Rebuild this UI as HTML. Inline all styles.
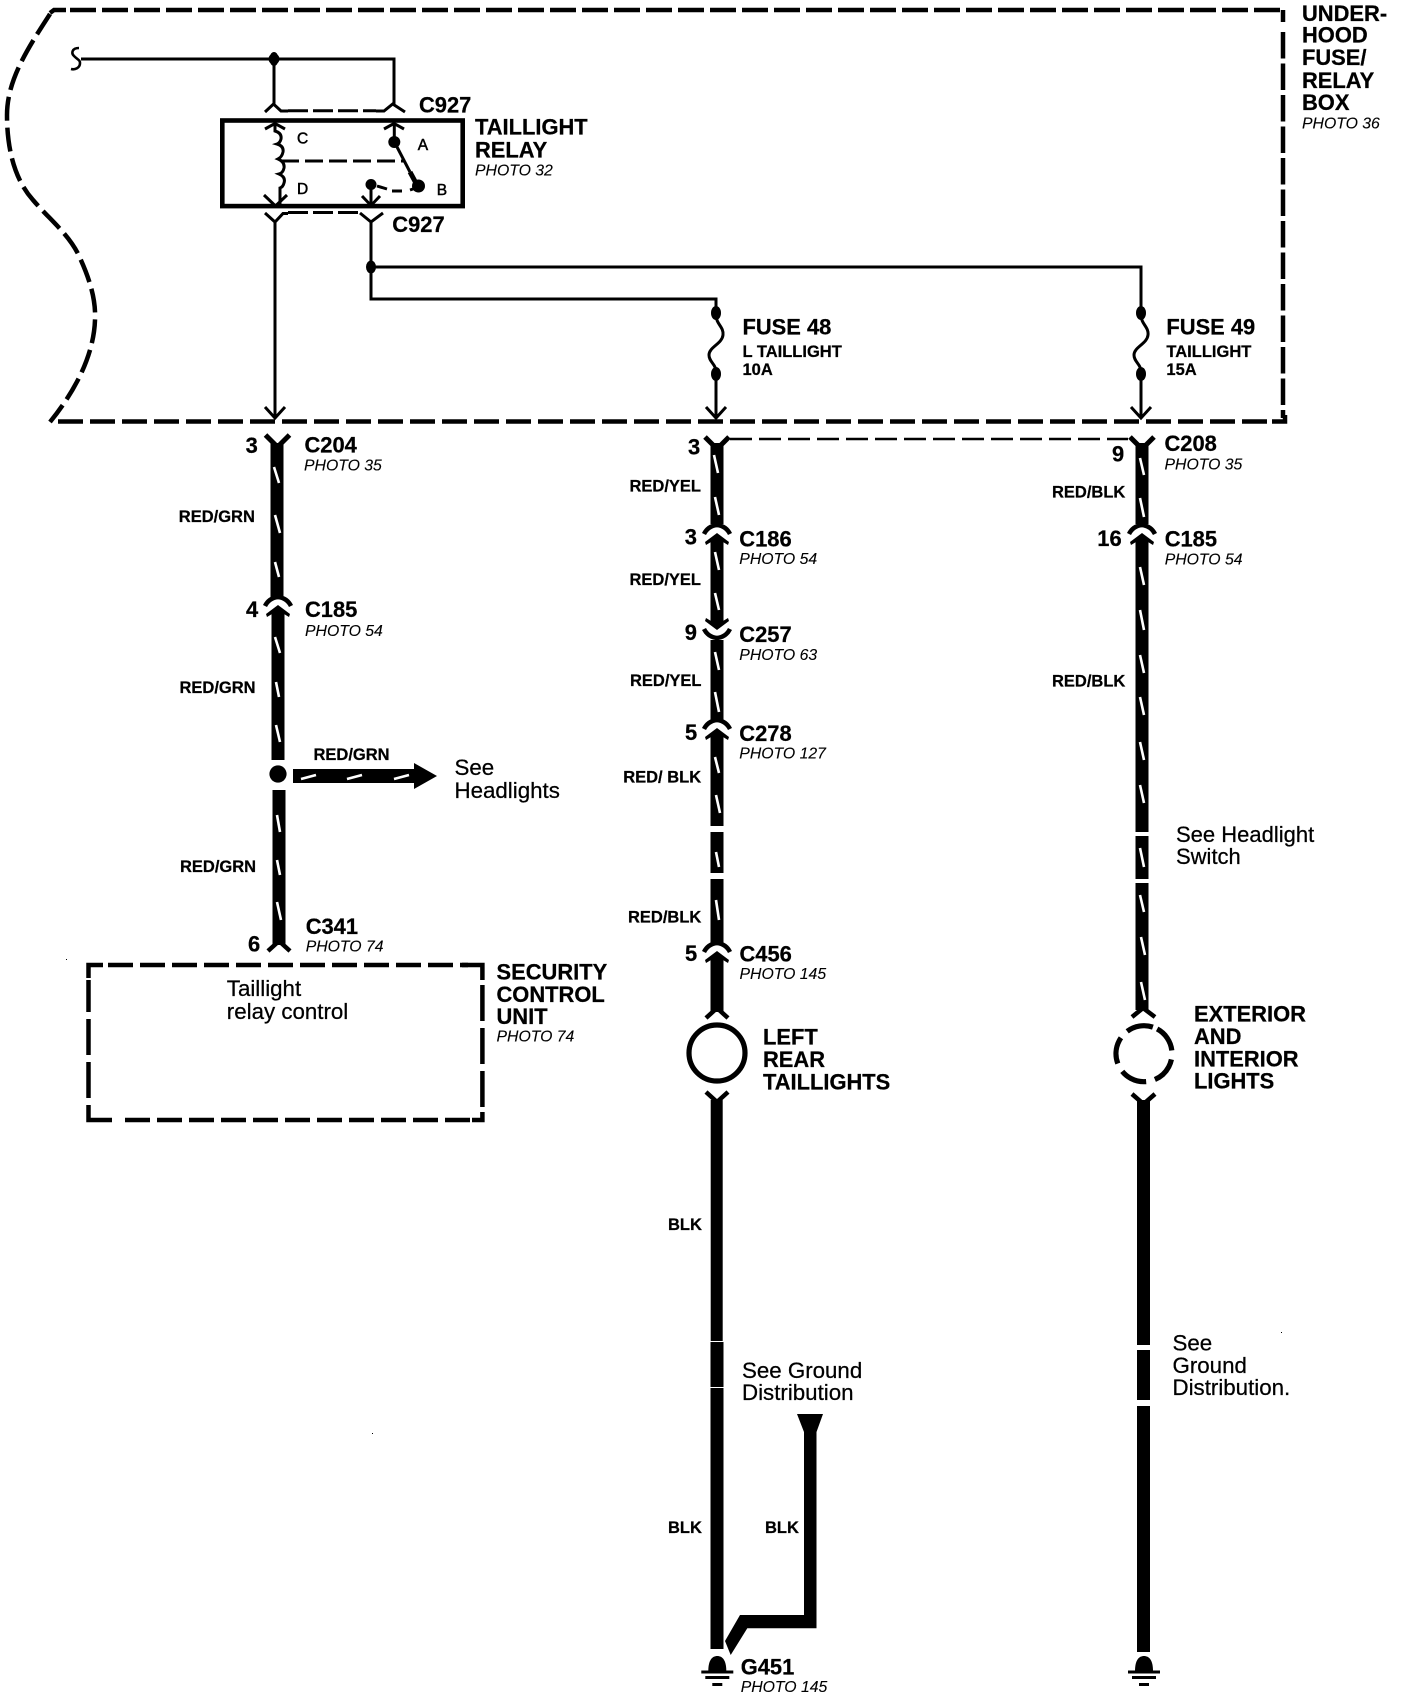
<!DOCTYPE html>
<html><head><meta charset="utf-8"><title>Taillight circuit</title>
<style>
html,body{margin:0;padding:0;background:#fff;width:1408px;height:1700px;overflow:hidden}
svg{display:block}
text{font-family:"Liberation Sans",sans-serif;fill:#000;stroke:#000;stroke-width:.25}
.b{font-weight:bold;font-size:21.9px}
.w{font-weight:bold;font-size:16.5px}
.p{font-style:italic;font-size:15.8px;stroke-width:.1}
.r{font-size:22.3px}
.s{font-size:15.5px;stroke-width:.5}
.n{fill:none;stroke:#000}
.t{stroke-width:3}
.wire{fill:none;stroke:#000;stroke-width:13}
.st{stroke:#fff;stroke-width:2.6;fill:none}
.d{fill:none;stroke:#000;stroke-width:4.5}
</style></head><body>
<svg width="1408" height="1700" viewBox="0 0 1408 1700" xmlns="http://www.w3.org/2000/svg">
<defs>
<g id="yt"><path d="M-12,-10 L0,2 L12,-10" fill="none" stroke="#000" stroke-width="5"/></g>
<g id="mate"><path d="M-13,5 Q-9,-3 0,-4 Q9,-3 13,5" fill="none" stroke="#000" stroke-width="4.5"/><path d="M0,4 L12,13 L11,16 L6,13 L6,18 L-6,18 L-6,13 L-11,16 L-12,13Z" fill="#000"/></g>
<g id="gnd"><path d="M-9,15 C-9,4 -5,0 0,0 C5,0 9,4 9,15 Z" fill="#000"/><rect x="-16" y="14.5" width="32" height="3"/><rect x="-12" y="20" width="24" height="3"/><rect x="-5" y="27" width="10" height="3"/></g>
<g id="fuse"><ellipse cx="0" cy="0" rx="5" ry="7"/><ellipse cx="0" cy="61" rx="5" ry="7"/><path d="M0,2 C0,11 8,14 7,22 C6,31 -7,34 -7,42 C-7,49 0,51 0,59" fill="none" stroke="#000" stroke-width="3"/></g>
<g id="va"><path d="M-10,-11 L0,0 L10,-11" fill="none" stroke="#000" stroke-width="3"/></g>
</defs>

<!-- Fuse box outline -->
<path class="d" stroke-dasharray="24 7" d="M50,14 C28,48 7,80 7,115 C7,150 15,180 33,200 C50,220 70,235 80,258 C90,280 96,300 95,320 C94,350 80,385 50,422"/>
<path class="d" d="M50,13 L54,10 L66,10"/>
<path class="d" stroke-dasharray="26 6" d="M70,10 H1280"/>
<path class="d" d="M1283,10 V22"/>
<path class="d" stroke-dasharray="26.5 5" d="M1283,32 V418"/>
<path class="d" stroke-dasharray="25 7" d="M58,421.5 H1272"/>
<path class="d" d="M1272,421.5 H1285 V415"/>

<!-- Top wiring -->
<path class="n t" d="M81,59 H394 V105"/>
<path class="n t" d="M274,59 V105"/>
<circle cx="274" cy="59" r="5.5"/>
<ellipse cx="274" cy="59" rx="4.5" ry="7"/>
<path class="n" stroke-width="2.6" d="M79,48 C72,48 71,53 74,56 C78,60 80,60 80,63 C80,68 75,70 71,69"/>
<path class="n t" d="M265,112 L273.5,104 L281,111 H288"/>
<path class="n t" d="M376,111 H384 L392.7,104 L405,112"/>
<path class="n t" stroke-dasharray="20 5" d="M288,110.7 H376"/>

<!-- Relay box -->
<rect x="222.3" y="120.5" width="240.4" height="85.6" fill="none" stroke="#000" stroke-width="4.6"/>
<path class="n t" d="M265,129 L275,123.5 L285,129"/>
<path class="n t" d="M275,124 V131 q7,2 6,8 q-1,4 -4,5 q7,2 6,8 q-1,5 -5,7 q7,3 6,9 q-1,5 -5,6 q7,3 5,9 q-1,4 -4,5 V204"/>
<path class="n t" d="M264,195 L275.5,206 L287,195"/>
<path class="n t" stroke-dasharray="18 6" d="M281,161 H405"/>
<path class="n t" d="M384,129 L394,123.5 L404,129"/>
<path class="n t" d="M394.3,124 V142"/>
<circle cx="394.3" cy="142" r="6"/>
<path class="n" stroke-width="3" d="M396,145 L410,172"/>
<path class="n" stroke-width="5" d="M410,172 L417,185"/>
<circle cx="418.5" cy="186" r="6.5"/>
<path class="n t" d="M377,186 L387,189"/>
<path class="n t" d="M392,191 H402"/>
<path class="n t" d="M410,190 L416,188"/>
<circle cx="371" cy="184.5" r="5.5"/>
<path class="n t" d="M371,186 V205"/>
<path class="n t" d="M362,196 L371,205.5 L380,196"/>

<!-- Lower relay connector -->
<path class="n t" d="M265,213 L275,222 L283,213.5 H288"/>
<path class="n t" d="M360,213 L371,222 L383,213"/>
<path class="n t" stroke-dasharray="20 5" d="M288,212.5 H360"/>
<path class="n t" d="M275,221 V418"/>
<use href="#va" x="275" y="418"/>
<path class="n t" d="M371,221 V299 H716 V314"/>
<path class="n t" d="M371,267 H1141 V314"/>
<ellipse cx="371" cy="267" rx="5" ry="6.5"/>
<use href="#fuse" x="716" y="313"/>
<use href="#fuse" x="1141" y="313"/>
<path class="n t" d="M716,374 V418"/><use href="#va" x="716" y="418"/>
<path class="n t" d="M1141,374 V418"/><use href="#va" x="1141" y="418"/>

<!-- Column 1 wires -->
<path class="wire" d="M277,443 V598"/>
<path class="wire" d="M278,612 V760"/>
<path class="wire" d="M279,790 V945"/>
<use href="#yt" x="277.5" y="445"/>
<use href="#mate" x="278" y="601"/>
<path class="n" stroke-width="4.5" d="M268,951 L279,941 L290,951"/>
<circle cx="278" cy="774" r="8.6"/>
<path d="M293,769 H414 V763 L437,776 L414,789 V783 H293Z"/>
<g class="st">
<path d="M274,467 L279,483"/><path d="M275,515 L280,533"/><path d="M275,562 L279,577"/>
<path d="M275,637 L280,653"/><path d="M276,682 L279,697"/><path d="M276,725 L280,742"/>
<path d="M277,815 L280,832"/><path d="M277,860 L280,875"/><path d="M277,902 L281,920"/>
<path d="M301,779 L316,775"/><path d="M347,779 L362,775"/><path d="M394,779 L409,775"/>
</g>

<!-- Column 2 wires -->
<path class="wire" d="M717,443 V524"/>
<path class="wire" d="M717,540 V622"/>
<path class="wire" d="M717,640 V722"/>
<path class="wire" d="M717,736 V826"/>
<path class="wire" d="M717,832 V873"/>
<path class="wire" d="M717,879 V945"/>
<path class="wire" d="M717,958 V1012"/>
<use href="#yt" x="717" y="447"/>
<use href="#mate" x="717" y="529"/>
<use transform="translate(717,634) scale(1,-1)" href="#mate"/>
<use href="#mate" x="717" y="724"/>
<use href="#mate" x="717" y="947"/>
<path class="n" stroke-width="4.5" d="M706,1018 L717,1008 L728,1018"/>
<circle cx="717" cy="1053" r="28" fill="none" stroke="#000" stroke-width="5.2"/>
<path class="n" stroke-width="4.5" d="M706,1092 L717,1102 L728,1092"/>
<path d="M710.7,1100 H722.7 V1341 H710.7Z"/>
<path d="M710.5,1342 H723.5 V1387 H710.5Z"/>
<path d="M710.5,1388 H723.5 V1649 H710.5Z"/>
<g class="st">
<path d="M714,455 L718,473"/><path d="M715,497 L719,515"/>
<path d="M715,552 L719,570"/><path d="M715,593 L719,610"/>
<path d="M715,652 L719,670"/><path d="M715,692 L719,712"/>
<path d="M715,757 L719,773"/><path d="M716,795 L720,813"/>
<path d="M716,852 L719,867"/><path d="M716,900 L719,920"/>
</g>
<path class="n" stroke-width="2.6" stroke-dasharray="22 7" d="M730,439 H1128"/>

<!-- Return ground wire -->
<path d="M797,1414 H823 L816.5,1432 V1628.3 H747.3 L730.7,1655 L725,1641 L740,1615 H804 V1432Z"/>
<use href="#gnd" x="717.3" y="1656"/>

<!-- Column 3 wires -->
<path class="wire" d="M1142,443 V524"/>
<path class="wire" d="M1142,540 V832"/>
<path class="wire" d="M1142,836 V879"/>
<path class="wire" d="M1142,883 V1010"/>
<use href="#yt" x="1142" y="447"/>
<use href="#mate" x="1142" y="529"/>
<path class="n" stroke-width="4.5" d="M1132,1017 L1143,1008 L1155,1017"/>
<circle cx="1144" cy="1053.7" r="28" fill="none" stroke="#000" stroke-width="5.2" stroke-dasharray="27 9" transform="rotate(-62 1144 1053.7)"/>
<path class="n" stroke-width="4.5" d="M1132,1094 L1143.5,1104 L1155,1094"/>
<path d="M1137,1100 H1150 V1345 H1137Z"/>
<path d="M1137,1350 H1150 V1400 H1137Z"/>
<path d="M1137,1406 H1150 V1652 H1137Z"/>
<use href="#gnd" x="1144" y="1656"/>
<g class="st">
<path d="M1140,458 L1144,475"/><path d="M1140,498 L1144,517"/>
<path d="M1140,567 L1144,585"/><path d="M1140,610 L1144,630"/>
<path d="M1140,655 L1144,673"/><path d="M1140,697 L1144,715"/>
<path d="M1140,742 L1144,760"/><path d="M1140,785 L1144,803"/>
<path d="M1140,848 L1144,867"/><path d="M1140,895 L1144,912"/>
<path d="M1141,937 L1145,955"/><path d="M1141,982 L1145,1000"/>
</g>

<!-- Security control unit -->
<path class="d" d="M103,965 H88.5 V978"/>
<path class="d" stroke-dasharray="25 7" d="M108,965 H468"/>
<path class="d" d="M462,965 H482.4 V980"/>
<path class="d" stroke-dasharray="36 7" d="M482.4,985 V1110"/>
<path class="d" d="M482.4,1112 V1120 H472"/>
<path class="d" stroke-dasharray="25 7" d="M470,1120 H118"/>
<path class="d" d="M112,1120 H88.5 V1105"/>
<path class="d" stroke-dasharray="36 7" d="M88.5,1098 V980"/>

<!-- specks -->
<rect x="66" y="959" width="1" height="1"/><rect x="372" y="1433" width="1" height="1"/><rect x="1281" y="1332" width="1" height="1"/>

<!-- Labels: relay area -->
<text class="b" x="419" y="112.5">C927</text>
<text class="b" x="392.3" y="232">C927</text>
<text class="b" x="475" y="134.3">TAILLIGHT</text>
<text class="b" x="475" y="157.3">RELAY</text>
<text class="p" x="475" y="175.7">PHOTO 32</text>
<text class="s" x="297" y="143.3">C</text>
<text class="s" x="417.7" y="150">A</text>
<text class="s" x="297" y="194">D</text>
<text class="s" x="436.7" y="195">B</text>
<text class="b" x="1302" y="21">UNDER-</text>
<text class="b" x="1302" y="42.7">HOOD</text>
<text class="b" x="1302" y="65">FUSE/</text>
<text class="b" x="1302" y="88">RELAY</text>
<text class="b" x="1302" y="110">BOX</text>
<text class="p" x="1302" y="128.3">PHOTO 36</text>
<text class="b" x="742.5" y="334.3">FUSE 48</text>
<text class="w" x="742.5" y="357">L TAILLIGHT</text>
<text class="w" x="742.5" y="375">10A</text>
<text class="b" x="1166.4" y="334.3">FUSE 49</text>
<text class="w" x="1166.4" y="357">TAILLIGHT</text>
<text class="w" x="1166.4" y="375">15A</text>

<!-- Column 1 labels -->
<text class="b" x="245.6" y="453">3</text>
<text class="b" x="304.5" y="452.5">C204</text>
<text class="p" x="304" y="470.7">PHOTO 35</text>
<text class="w" x="178.8" y="522">RED/GRN</text>
<text class="b" x="246" y="617">4</text>
<text class="b" x="305" y="617">C185</text>
<text class="p" x="305" y="636">PHOTO 54</text>
<text class="w" x="179.5" y="693">RED/GRN</text>
<text class="w" x="313.5" y="760">RED/GRN</text>
<text class="r" x="454.5" y="775">See</text>
<text class="r" x="454.5" y="798">Headlights</text>
<text class="w" x="180" y="872">RED/GRN</text>
<text class="b" x="248" y="951.7">6</text>
<text class="b" x="305.7" y="934">C341</text>
<text class="p" x="305.7" y="951.7">PHOTO 74</text>
<text class="r" x="226.8" y="996">Taillight</text>
<text class="r" x="226.8" y="1019">relay control</text>
<text class="b" x="496.5" y="979.5">SECURITY</text>
<text class="b" x="496.5" y="1002">CONTROL</text>
<text class="b" x="496.5" y="1024">UNIT</text>
<text class="p" x="496.5" y="1041.7">PHOTO 74</text>

<!-- Column 2 labels -->
<text class="b" x="688" y="454.3">3</text>
<text class="w" x="629.5" y="491.7">RED/YEL</text>
<text class="b" x="684.8" y="544.3">3</text>
<text class="b" x="739.3" y="546.5">C186</text>
<text class="p" x="739.3" y="564">PHOTO 54</text>
<text class="w" x="629.5" y="585">RED/YEL</text>
<text class="b" x="684.8" y="640">9</text>
<text class="b" x="739.3" y="642">C257</text>
<text class="p" x="739.3" y="660">PHOTO 63</text>
<text class="w" x="630" y="686">RED/YEL</text>
<text class="b" x="685" y="740">5</text>
<text class="b" x="739.3" y="741">C278</text>
<text class="p" x="739.3" y="758.3">PHOTO 127</text>
<text class="w" x="623.2" y="782.7">RED/ BLK</text>
<text class="w" x="628" y="922.7">RED/BLK</text>
<text class="b" x="685" y="961">5</text>
<text class="b" x="739.5" y="961.5">C456</text>
<text class="p" x="739.5" y="979">PHOTO 145</text>
<text class="b" x="763" y="1044.5">LEFT</text>
<text class="b" x="763" y="1067">REAR</text>
<text class="b" x="763" y="1089.5">TAILLIGHTS</text>
<text class="w" x="668" y="1230">BLK</text>
<text class="r" x="742" y="1378">See Ground</text>
<text class="r" x="742" y="1400">Distribution</text>
<text class="w" x="668" y="1533">BLK</text>
<text class="w" x="765" y="1533">BLK</text>
<text class="b" x="740.7" y="1674.5">G451</text>
<text class="p" x="740.7" y="1692">PHOTO 145</text>

<!-- Column 3 labels -->
<text class="b" x="1112" y="461.7">9</text>
<text class="b" x="1164.5" y="451">C208</text>
<text class="p" x="1164.5" y="469.5">PHOTO 35</text>
<text class="w" x="1052" y="497.3">RED/BLK</text>
<text class="b" x="1097.3" y="546">16</text>
<text class="b" x="1164.7" y="546.5">C185</text>
<text class="p" x="1164.7" y="564.3">PHOTO 54</text>
<text class="w" x="1052" y="686.7">RED/BLK</text>
<text class="r" x="1176" y="842" style="font-size:22px">See Headlight</text>
<text class="r" x="1176" y="864" style="font-size:22px">Switch</text>
<text class="b" x="1194" y="1021.7">EXTERIOR</text>
<text class="b" x="1194" y="1044">AND</text>
<text class="b" x="1194" y="1066.5">INTERIOR</text>
<text class="b" x="1194" y="1088.7">LIGHTS</text>
<text class="r" x="1172.5" y="1350.5">See</text>
<text class="r" x="1172.5" y="1373">Ground</text>
<text class="r" x="1172.5" y="1395">Distribution.</text>
</svg>
</body></html>
